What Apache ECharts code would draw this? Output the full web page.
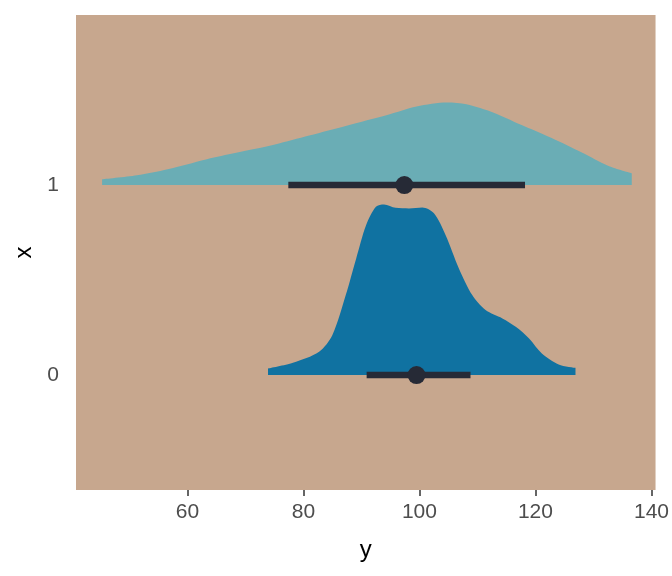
<!DOCTYPE html>
<html><head><meta charset="utf-8">
<script src="https://cdn.jsdelivr.net/npm/echarts@6/dist/echarts.min.js"></script>
<style>html,body{margin:0;padding:0;background:#fff}#c{width:672px;height:576px}</style>
</head><body><div id="c"></div>
<script>
// Category 1 density (x positions, heights above baseline in category units)
const dens1X = [45.3, 51.3, 56.6, 63.2, 69.8, 75.1, 81.0, 87.6, 94.3, 99.5, 104.8, 108.1, 112.8, 117.4, 122.7, 128.0, 132.6, 136.6];
const dens1H = [0.030, 0.051, 0.083, 0.135, 0.179, 0.214, 0.261, 0.314, 0.367, 0.413, 0.434, 0.425, 0.381, 0.319, 0.249, 0.171, 0.100, 0.062];
// Category 0 density
const dens0X = [73.9, 78.2, 82.7, 85.0, 87.3, 89.1, 90.8, 92.5, 93.9, 95.9, 98.2, 100.5, 102.5, 104.5, 106.8, 109.1, 111.4, 114.3, 116.6, 118.9, 121.1, 124.0, 126.9];
const dens0H = [0.035, 0.065, 0.123, 0.211, 0.421, 0.614, 0.789, 0.886, 0.898, 0.880, 0.877, 0.882, 0.851, 0.737, 0.561, 0.421, 0.342, 0.298, 0.254, 0.193, 0.114, 0.056, 0.038];
// Point + interval summaries per category
const categories = ['0', '1'];
const pointEst = [99.5, 97.4];
const intervalLow = [90.9, 77.4];
const intervalHigh = [108.8, 118.2];
const xTicks = [60, 80, 100, 120, 140];

const toLine = (xs, hs, base) => xs.map((x, i) => [x, base + hs[i]]);

const chart = echarts.init(document.getElementById('c'), null, {renderer: 'canvas'});
const font = 'Liberation Sans, Arial, sans-serif';
chart.setOption({
  backgroundColor: '#ffffff',
  animation: false,
  grid: {left: 76, right: 16, top: 15, bottom: 86, show: true, backgroundColor: '#c7a78e', borderWidth: 0},
  xAxis: {
    type: 'value', min: 40.8, max: 140.7,
    name: 'y', nameLocation: 'middle', nameGap: 48,
    nameTextStyle: {fontSize: 24, color: '#000', fontFamily: font},
    axisLine: {show: false, onZero: false},
    splitLine: {show: false},
    axisTick: {show: true, customValues: xTicks, length: 6, lineStyle: {color: '#333', width: 1.5}},
    axisLabel: {customValues: xTicks, margin: 12, fontSize: 21, color: '#4d4d4d', fontFamily: font}
  },
  yAxis: {
    type: 'value', min: -0.605, max: 1.895,
    name: 'x', nameLocation: 'middle', nameGap: 36, nameRotate: 90,
    nameTextStyle: {fontSize: 24, color: '#000', fontFamily: font},
    axisLine: {show: false, onZero: false}, splitLine: {show: false},
    axisTick: {show: false},
    axisLabel: {customValues: categories.map(Number), margin: 17, fontSize: 21, color: '#4d4d4d', fontFamily: font,
      formatter: v => categories[Math.round(v)]}
  },
  series: [
    {type: 'line', z: 2, data: toLine(dens1X, dens1H, 1), smooth: 0.3, symbol: 'none',
     lineStyle: {width: 0}, areaStyle: {color: '#6aadb5', opacity: 1, origin: 1}},
    {type: 'line', z: 2, data: toLine(dens0X, dens0H, 0), smooth: 0.3, symbol: 'none',
     lineStyle: {width: 0}, areaStyle: {color: '#1072a1', opacity: 1, origin: 0}},
    {type: 'custom', z: 10, clip: false,
     data: categories.map((c, i) => [intervalLow[i], intervalHigh[i], pointEst[i], Number(c)]),
     renderItem: (params, api) => {
       const y = api.value(3);
       const p1 = api.coord([api.value(0), y]);
       const p2 = api.coord([api.value(1), y]);
       const pc = api.coord([api.value(2), y]);
       return {type: 'group', children: [
         {type: 'line', shape: {x1: p1[0], y1: p1[1], x2: p2[0], y2: p2[1]}, style: {stroke: '#262a36', lineWidth: 6.5}},
         {type: 'circle', shape: {cx: pc[0], cy: pc[1], r: 9}, style: {fill: '#262a36'}}
       ]};
     }}
  ]
});
</script></body></html>
